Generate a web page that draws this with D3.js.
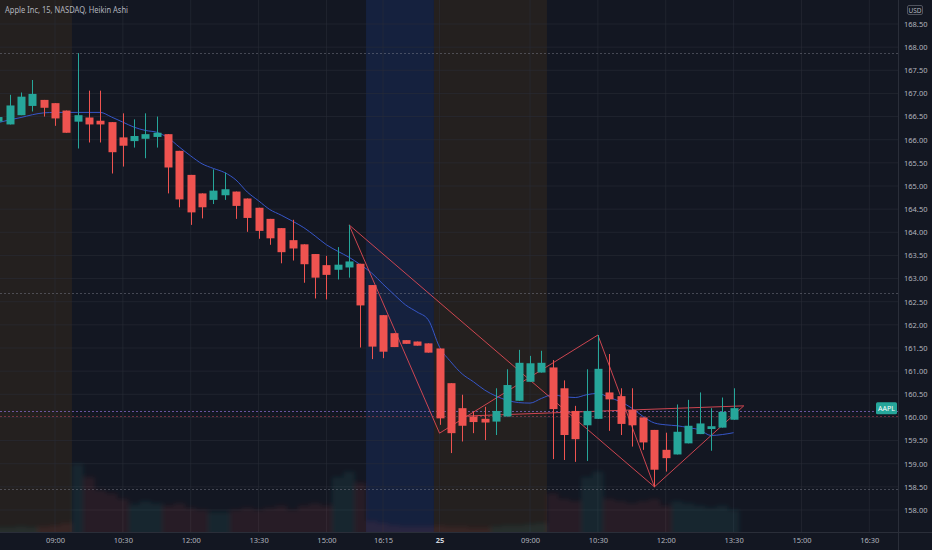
<!DOCTYPE html>
<html><head><meta charset="utf-8">
<script src="https://cdn.jsdelivr.net/npm/d3@7"></script>
<style>html,body{margin:0;padding:0;background:#131722;}svg{display:block;}</style>
</head><body><svg id="c" width="932" height="550"></svg>
<script>
// ---- data (bar index k: 0 = 09:00 day 1, 15-minute bars) ----
const barIdx = d3.range(-5, 61);
const opens  = [166.39,166.33,166.53,166.73,166.86,166.79,166.63,166.39,166.48,166.41,166.38,166.05,165.97,166.02,166.06,166.12,165.76,165.24,164.84,164.70,164.80,164.88,164.73,164.53,164.29,164.09,163.83,163.74,163.53,163.29,163.19,163.24,163.32,162.86,162.21,161.82,161.67,161.64,161.60,161.49,160.74,160.20,160.02,159.97,159.91,160.02,160.36,160.77,160.97,161.08,160.63,160.14,159.83,159.97,160.54,160.46,160.16,160.00,159.73,159.30,159.20,159.44,159.64,159.75,159.78,159.95];
const highs  = [166.52,166.97,167.02,167.29,166.86,166.79,166.63,167.87,167.06,167.06,166.38,166.57,166.44,166.57,166.50,166.12,165.76,165.24,164.84,165.36,165.29,164.88,164.73,164.53,164.29,164.09,164.27,163.74,163.53,163.49,163.68,164.16,163.32,162.86,162.21,161.82,161.67,161.64,161.60,161.49,160.74,160.49,160.13,160.23,160.63,161.04,161.46,161.33,161.44,161.24,160.80,160.25,161.04,161.78,161.37,160.63,160.63,160.00,159.73,159.67,160.28,160.38,160.54,160.20,160.43,160.63];
const lows   = [166.36,166.33,166.53,166.61,166.50,166.30,166.15,165.81,165.94,165.94,165.27,165.42,165.83,165.60,165.83,164.84,164.54,164.16,164.30,164.61,164.70,164.29,164.01,163.86,163.73,163.33,163.39,162.91,162.57,162.55,162.98,163.02,161.51,161.26,161.28,161.52,161.59,161.55,161.40,159.84,159.23,159.48,159.66,159.51,159.62,160.02,160.36,160.77,160.97,159.10,159.08,159.04,159.06,159.97,159.71,159.62,159.37,159.30,158.50,158.83,159.20,159.44,159.64,159.28,159.78,159.95];
const closes = [166.49,166.74,166.93,166.99,166.69,166.46,166.15,166.53,166.33,166.33,165.73,165.87,166.08,166.12,166.15,165.40,164.71,164.43,164.54,164.90,164.93,164.57,164.31,164.03,163.87,163.57,163.65,163.31,163.02,163.08,163.30,163.37,162.42,161.53,161.42,161.52,161.59,161.55,161.40,159.98,159.66,159.82,159.90,159.89,160.14,160.70,161.18,161.17,161.18,160.18,159.62,159.53,160.14,161.05,160.39,159.86,159.83,159.46,158.87,159.12,159.69,159.82,159.87,159.81,160.12,160.20];
const maValues = [166.37,166.43,166.48,166.54,166.58,166.59,166.59,166.59,166.59,166.59,166.49,166.38,166.27,166.20,166.16,166.04,165.84,165.65,165.48,165.38,165.29,165.13,164.87,164.68,164.49,164.37,164.24,164.10,163.92,163.73,163.59,163.46,163.30,163.12,162.88,162.65,162.43,162.28,162.11,161.52,161.20,160.94,160.77,160.59,160.46,160.37,160.32,160.31,160.41,160.49,160.45,160.43,160.49,160.52,160.43,160.34,160.20,160.02,159.88,159.84,159.82,159.78,159.73,159.61,159.63,159.67];
const volumes = [4,4,5,4,5,6,8,62,50,38,35,30,25,28,26,24,26,22,20,18,18,20,22,20,22,24,20,24,26,24,50,55,45,10,8,6,5,5,5,6,5,5,4,4,5,6,6,7,8,35,30,28,50,55,30,28,26,28,30,24,28,26,24,22,24,20];

// pattern (zigzag) segments: [barIndex, price] pairs
const patternSegments = [
  [[26,164.16],[34,159.66]],
  [[26,164.16],[53,158.50]],
  [[34,159.66],[48,161.78]],
  [[48,161.78],[53,158.50]],
  [[53,158.50],[60.9,160.25]],
  [[36.3,160.03],[60.9,160.25]]
];
// sessions: [startBar, endBar, type]
const sessions = [[-7,1.5,"pre"],[27.5,33.5,"post"],[33.5,43.5,"pre"]];
const priceTicks = [158,158.5,159,159.5,160,160.5,161,161.5,162,162.5,163,163.5,164,164.5,165,165.5,166,166.5,167,167.5,168,168.5];
const xTickIdx    = [0,6,12,18,24,29,34,42,48,54,60,66,72];
const xTickLabels = ["09:00","10:30","12:00","13:30","15:00","16:15","25","09:00","10:30","12:00","13:30","15:00","16:30"];
const levelLines = [167.88, 162.69, 158.45];
const title = "Apple Inc, 15, NASDAQ, Heikin Ashi";
const symbol = "AAPL";

// ---- layout ----
const W = 932, H = 550, plotR = 898, plotB = 532;
const svg = d3.select("#c");
const x = d3.scaleLinear().domain([0, 60]).range([55, 55 + 60 * 11.31]);
const y = d3.scaleLinear().domain([158, 168.5]).range([510, 24]);
const bw = 8;
const up = "#26a69a", dn = "#ef5350";

svg.append("rect").attr("width", W).attr("height", H).attr("fill", "#131722");
svg.append("defs").html('<clipPath id="pc"><rect x="0" y="0" width="898" height="532"/></clipPath><filter id="bl" x="-10%" y="-10%" width="120%" height="120%"><feGaussianBlur stdDeviation="2.2"/></filter>');
const g = svg.append("g").attr("clip-path", "url(#pc)");

// session shading
g.selectAll("rect.sess").data(sessions).join("rect")
  .attr("x", d => x(d[0])).attr("width", d => x(d[1]) - x(d[0]))
  .attr("y", 0).attr("height", plotB)
  .attr("fill", d => d[2] === "pre" ? "rgba(255,152,0,0.075)" : "rgba(41,98,255,0.13)");

// grid
g.selectAll("line.hg").data(priceTicks).join("line")
  .attr("x1", 0).attr("x2", plotR).attr("y1", d => y(d)).attr("y2", d => y(d))
  .attr("stroke", "rgba(42,46,57,0.55)").attr("stroke-width", 1);
g.selectAll("line.vg").data(xTickIdx).join("line")
  .attr("x1", d => x(d)).attr("x2", d => x(d)).attr("y1", 0).attr("y2", plotB)
  .attr("stroke", "rgba(42,46,57,0.55)").attr("stroke-width", 1);

// volume
const v = d3.scaleLinear().domain([0, 62]).range([plotB, plotB - 68]);
g.append("g").attr("filter", "url(#bl)").selectAll("rect").data(barIdx).join("rect")
  .attr("x", (k) => x(k) - 5.65).attr("width", 11.31)
  .attr("y", (k, i) => v(volumes[i])).attr("height", (k, i) => plotB - v(volumes[i]) + 4)
  .attr("fill", (k, i) => closes[i] >= opens[i] ? "rgba(38,166,154,0.11)" : "rgba(239,83,80,0.09)");

// level lines
g.selectAll("line.lv").data(levelLines).join("line")
  .attr("x1", 0).attr("x2", plotR).attr("y1", d => Math.round(y(d)) + 0.5).attr("y2", d => Math.round(y(d)) + 0.5)
  .attr("stroke", "rgba(130,134,146,0.45)").attr("stroke-dasharray", "2,2");
const lastClose = closes[closes.length - 1];
g.append("line").attr("x1", 0).attr("x2", plotR)
  .attr("y1", Math.round(y(lastClose - 0.06)) + 0.5).attr("y2", Math.round(y(lastClose - 0.06)) + 0.5)
  .attr("stroke", "rgba(140,110,210,0.7)").attr("stroke-dasharray", "2,2");
g.append("line").attr("x1", 0).attr("x2", plotR)
  .attr("y1", Math.round(y(lastClose - 0.16)) + 0.5).attr("y2", Math.round(y(lastClose - 0.16)) + 0.5)
  .attr("stroke", "rgba(220,80,100,0.45)").attr("stroke-dasharray", "2,2");

// moving average
g.append("path").datum(barIdx)
  .attr("d", d3.line().x(k => x(k)).y((k, i) => y(maValues[i])).curve(d3.curveMonotoneX))
  .attr("fill", "none").attr("stroke", "#3656c8").attr("stroke-width", 1);

// pattern lines
g.selectAll("line.pt").data(patternSegments).join("line")
  .attr("x1", d => x(d[0][0])).attr("y1", d => y(d[0][1]))
  .attr("x2", d => x(d[1][0])).attr("y2", d => y(d[1][1]))
  .attr("stroke", "#e04a55").attr("stroke-width", 1).attr("opacity", 0.9);

// candles
const cg = g.selectAll("g.cd").data(barIdx).join("g");
cg.append("line")
  .attr("x1", k => Math.round(x(k)) + 0.5).attr("x2", k => Math.round(x(k)) + 0.5)
  .attr("y1", (k, i) => y(highs[i])).attr("y2", (k, i) => y(lows[i]))
  .attr("stroke", (k, i) => closes[i] >= opens[i] ? up : dn).attr("stroke-width", 1);
cg.append("rect")
  .attr("x", k => Math.round(x(k)) + 0.5 - bw / 2).attr("width", bw)
  .attr("y", (k, i) => y(Math.max(opens[i], closes[i])))
  .attr("height", (k, i) => Math.max(1.5, Math.abs(y(opens[i]) - y(closes[i]))))
  .attr("fill", (k, i) => closes[i] >= opens[i] ? up : dn);

// symbol label
const ly = y(lastClose);
svg.append("rect").attr("x", 876).attr("y", ly - 6).attr("width", 21).attr("height", 12).attr("rx", 1.5).attr("fill", up);
svg.append("text").attr("x", 886.5).attr("y", ly + 2.5).attr("text-anchor", "middle")
  .attr("font-family", "Noto Sans").attr("font-size", 7).attr("fill", "#ffffff").text(symbol);

// axes
svg.append("line").attr("x1", plotR + 0.5).attr("x2", plotR + 0.5).attr("y1", 0).attr("y2", H).attr("stroke", "#2a2e39");
svg.append("line").attr("x1", 0).attr("x2", W).attr("y1", plotB + 0.5).attr("y2", plotB + 0.5).attr("stroke", "#2a2e39");

const ya = svg.append("g").attr("transform", `translate(${plotR},0)`)
  .call(d3.axisRight(y).tickValues(priceTicks).tickFormat(d3.format(".2f")).tickSize(0).tickPadding(6));
ya.select(".domain").remove();
ya.selectAll("text").attr("font-family", "Noto Sans").attr("font-size", 7.5).attr("fill", "#b2b5be");

const xa = svg.append("g").attr("transform", `translate(0,${plotB})`)
  .call(d3.axisBottom(x).tickValues(xTickIdx).tickFormat((d, i) => xTickLabels[i]).tickSize(0).tickPadding(6));
xa.select(".domain").remove();
xa.selectAll("text").attr("font-family", "Noto Sans").attr("font-size", 7.5)
  .attr("fill", (d, i) => xTickLabels[i] === "25" ? "#d1d4dc" : "#b2b5be")
  .attr("font-weight", (d, i) => xTickLabels[i] === "25" ? "bold" : "normal");

// USD box
svg.append("rect").attr("x", 907.5).attr("y", 5.5).attr("width", 15).attr("height", 9).attr("rx", 1.5)
  .attr("fill", "none").attr("stroke", "#50535e");
svg.append("text").attr("x", 915).attr("y", 12.5).attr("text-anchor", "middle")
  .attr("font-family", "Noto Sans").attr("font-size", 6.5).attr("fill", "#b2b5be").text("USD");

// title
svg.append("text").attr("x", 5).attr("y", 13).attr("font-family", "Noto Sans").attr("font-size", 8)
  .attr("fill", "#b2b5be").attr("textLength", 123).attr("lengthAdjust", "spacingAndGlyphs").text(title);
</script></body></html>
